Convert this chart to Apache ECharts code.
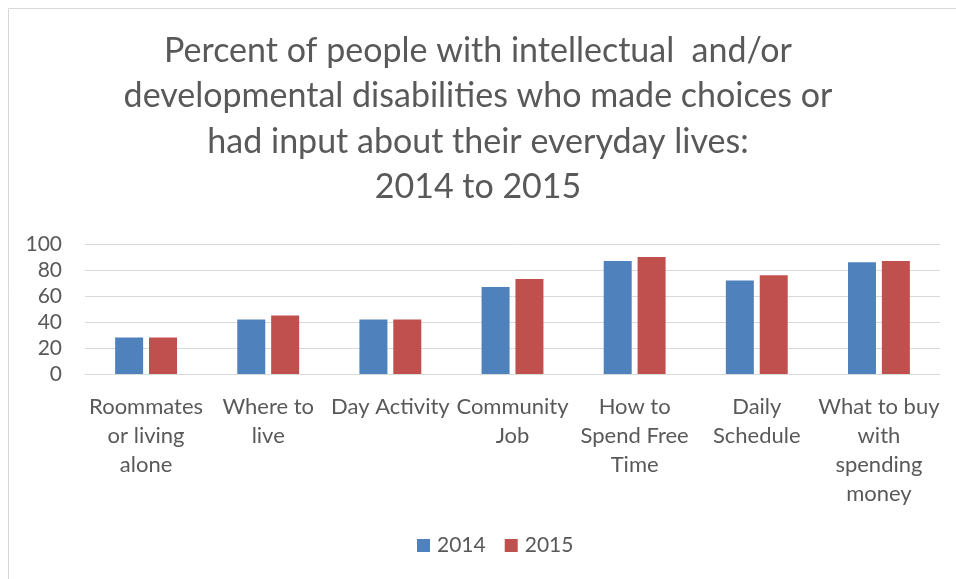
<!DOCTYPE html>
<html>
<head>
<meta charset="utf-8">
<script src="https://cdn.jsdelivr.net/npm/echarts@6/dist/echarts.min.js"></script>
<style>
  html, body { margin: 0; padding: 0; background: #fff; }
  #chart { width: 956px; height: 579px; }
</style>
</head>
<body>
<div id="chart"></div>
<script>
// Choice areas (multi-line labels as shown under each group)
const categories = [
  'Roommates\nor living\nalone',
  'Where to\nlive',
  'Day Activity',
  'Community\nJob',
  'How to\nSpend Free\nTime',
  'Daily\nSchedule',
  'What to buy\nwith\nspending\nmoney'
];
const seriesNames = ['2014', '2015'];
const values2014 = [28, 42, 42, 67, 87, 72, 86];
const values2015 = [28, 45, 42, 73, 90, 76, 87];
const yTicks = { min: 0, max: 100, interval: 20 };

const FONT = 'Lato, "Open Sans", sans-serif';
const TEXT = '#595959';

const chart = echarts.init(document.getElementById('chart'), null, { renderer: 'canvas' });
chart.setOption({
  backgroundColor: '#ffffff',
  animation: false,
  title: {
    text: 'Percent of people with intellectual  and/or\ndevelopmental disabilities who made choices or\nhad input about their everyday lives:\n2014 to 2015',
    left: 'center',
    top: 23,
    padding: [5, 0, 5, 24],
    textStyle: {
      fontFamily: FONT, fontSize: 34, fontWeight: 'normal',
      color: TEXT, lineHeight: 45.5
    }
  },
  legend: {
    data: seriesNames,
    bottom: 18,
    left: 412,
    padding: 5,
    itemWidth: 13, itemHeight: 13, itemGap: 19,
    icon: 'rect',
    textStyle: { fontFamily: FONT, fontSize: 21, color: TEXT, padding: [0, 0, 0, 2] }
  },
  grid: { left: 85, right: 16, top: 244, bottom: 205 },
  xAxis: {
    type: 'category',
    data: categories,
    axisLine: { lineStyle: { color: '#d9d9d9', width: 1 } },
    axisTick: { show: false },
    axisLabel: {
      interval: 0, margin: 18, fontFamily: FONT, fontSize: 22,
      color: TEXT, lineHeight: 29, align: 'center'
    }
  },
  yAxis: {
    type: 'value',
    min: yTicks.min, max: yTicks.max, interval: yTicks.interval,
    axisLine: { show: false },
    axisTick: { show: false },
    splitLine: { lineStyle: { color: '#d9d9d9', width: 1 } },
    axisLabel: { margin: 23, fontFamily: FONT, fontSize: 21, color: TEXT }
  },
  series: [
    { name: seriesNames[0], type: 'bar', data: values2014, barWidth: 28, barGap: '21%',
      itemStyle: { color: '#4f81bd' } },
    { name: seriesNames[1], type: 'bar', data: values2015, barWidth: 28, barGap: '21%',
      itemStyle: { color: '#c0504d' } }
  ],
  graphic: [
    { type: 'rect', silent: true, shape: { x: 8.5, y: 8.5, width: 1000, height: 700 },
      style: { fill: 'none', stroke: '#d9d9d9', lineWidth: 1 } }
  ]
});
</script>
</body>
</html>
